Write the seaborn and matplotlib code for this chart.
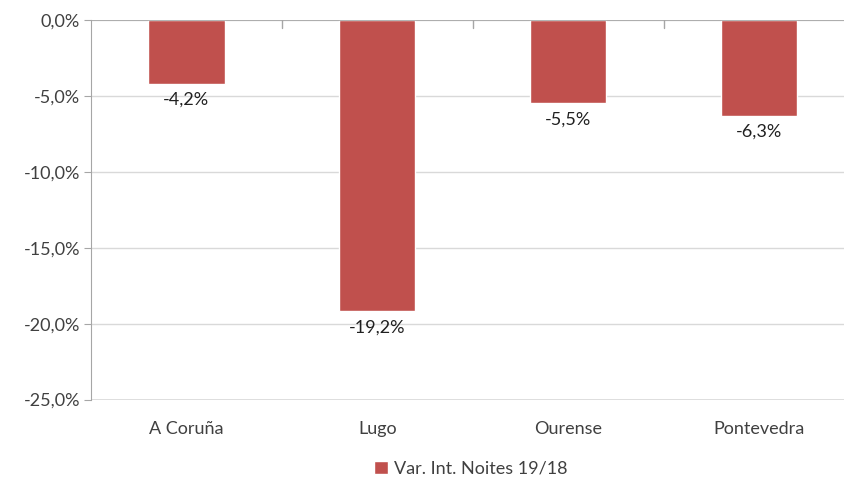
import matplotlib.pyplot as plt
import pandas as pd
import seaborn as sns
from matplotlib.ticker import FuncFormatter
from matplotlib.patches import Patch

# Data
provinces = ['A Coruña', 'Lugo', 'Ourense', 'Pontevedra']
variation = [-4.2, -19.2, -5.5, -6.3]
series_name = 'Var. Int. Noites 19/18'

df = pd.DataFrame({'province': provinces, 'value': variation})

sns.set_style('white')
plt.rcParams['font.family'] = ['Lato', 'DejaVu Sans']

bar_color = '#C0504D'
grid_color = '#D9D9D9'
axis_color = '#A6A6A6'
text_color = '#404040'
fs = 13

fig = plt.figure(figsize=(8.44, 4.82), dpi=100)
ax = fig.add_axes([91 / 844, 1 - 400 / 482, 1 - 91 / 844, 380 / 482])

sns.barplot(data=df, x='province', y='value', color=bar_color,
            width=0.4, saturation=1, ax=ax, zorder=3)

def pct(v):
    return f'{v:.1f}%'.replace('.', ',')

# value labels below the bars
ax.bar_label(ax.containers[0], labels=[pct(v) for v in variation],
             padding=6, fontsize=fs, color='#202020')

ax.set_ylim(-25.03, 0)
ax.set_xlim(-0.5, 3.5 - 10.5 / 191)
ax.set_yticks([0, -5, -10, -15, -20, -25])
ax.yaxis.set_major_formatter(FuncFormatter(lambda v, _: pct(v)))
ax.grid(axis='y', color=grid_color, linewidth=1, zorder=0)
ax.axhline(-25, color=grid_color, linewidth=1.2, zorder=1)
ax.set_xlabel('')
ax.set_ylabel('')

for side in ['top', 'right', 'bottom']:
    ax.spines[side].set_visible(False)
ax.spines['left'].set_color(axis_color)
ax.axhline(0, color=axis_color, linewidth=1.2, zorder=4)

# category boundary ticks on the zero line
for b in [0.5, 1.5, 2.5]:
    ax.plot([b, b], [0, -0.5], color=axis_color, linewidth=1, zorder=4)

ax.tick_params(axis='y', length=5, color=axis_color, labelsize=fs,
               labelcolor=text_color, pad=3, left=True)
ax.tick_params(axis='x', length=0, labelsize=fs, labelcolor=text_color, pad=15)

handles = [Patch(facecolor=bar_color, label=series_name)]
fig.legend(handles=handles, loc='center', bbox_to_anchor=(0.558, 1 - 469 / 482),
           frameon=False, fontsize=fs, handlelength=0.75, handleheight=0.75,
           handletextpad=0.35, labelcolor=text_color)

fig.savefig('out.png', dpi=100)
